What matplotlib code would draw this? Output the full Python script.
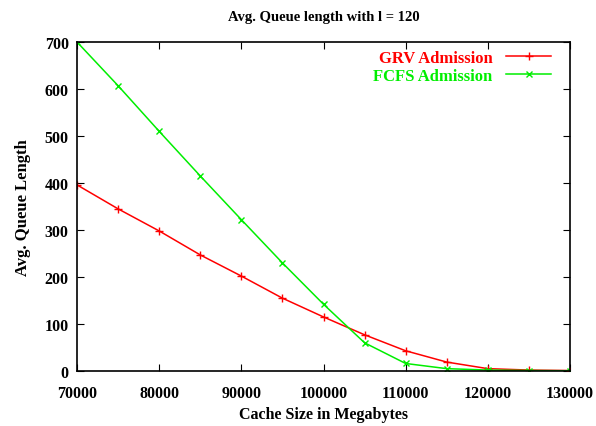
import matplotlib
matplotlib.use('Agg')
import matplotlib.pyplot as plt

# Cache sizes (MB) and average queue lengths
cache_size = [70000, 75000, 80000, 85000, 90000, 95000, 100000,
              105000, 110000, 115000, 120000, 125000, 130000]
grv_queue = [396, 345, 298, 247, 202, 155, 115, 77, 43, 19, 5, 2, 1]
fcfs_queue = [700, 607, 510, 415, 322, 230, 142, 60, 16, 5, 2, 1, 0.5]

plt.rcParams['font.family'] = 'Liberation Serif'
plt.rcParams['font.weight'] = 'bold'

fig = plt.figure(figsize=(5.96, 4.27), dpi=100)
ax = fig.add_axes([77 / 596, 1 - 372 / 427, (570 - 77) / 596, (372 - 43) / 427])

ax.plot(cache_size, grv_queue, color='#ff0000', marker='+', markersize=6,
        linewidth=1.1, label='GRV Admission')
ax.plot(cache_size, fcfs_queue, color='#00ee00', marker='x', markersize=5,
        linewidth=1.1, label='FCFS Admission')

ax.set_xlim(70000, 130000)
ax.set_ylim(0, 700)
ax.set_xticks(range(70000, 130001, 10000))
ax.set_yticks(range(0, 701, 100))
ax.tick_params(direction='in', top=True, right=True, length=5, labelsize=11.5)
ax.tick_params(axis='x', pad=10)
ax.tick_params(axis='y', pad=6)
for s in ax.spines.values():
    s.set_linewidth(1.2)

ax.set_xlabel('Cache Size in Megabytes', fontsize=11.5, fontweight='bold', labelpad=4)
ax.set_ylabel('Avg. Queue Length', fontsize=12, fontweight='bold', labelpad=10)
fig.text((77 + 570) / 2 / 596, 1 - 17 / 427, 'Avg. Queue length with l = 120',
         ha='center', va='center', fontsize=10.5, fontweight='bold')

leg = ax.legend(loc='upper right', frameon=False, markerfirst=False, fontsize=12,
                handlelength=2.7, borderaxespad=0.0, labelspacing=0.1,
                bbox_to_anchor=(0.975, 0.995))
for text, line in zip(leg.get_texts(), leg.get_lines()):
    text.set_color(line.get_color())

plt.savefig('out.png', dpi=100)
